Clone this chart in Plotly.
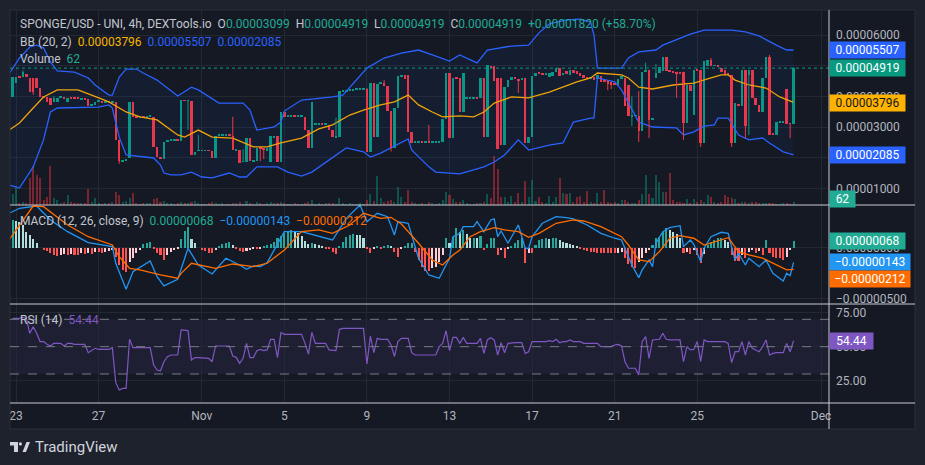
import pandas as pd
import plotly.graph_objects as go

# ---------------- data ----------------
BASE_TIME = pd.Timestamp("2023-10-23 00:00")   # bar index 0
BAR = pd.Timedelta(hours=4)
FIRST_INDEX = -1

# prices in units of 1e-5 USD, bars -1 .. 226
OPEN_E5 = [
    3.98, 4.43, 4.63, 4.62, 4.72, 4.60, 4.60, 4.60, 4.27, 3.98,
    3.98, 3.95, 3.82, 3.80, 3.95, 3.95, 3.80, 3.96, 3.95, 3.94,
    3.91, 3.91, 3.91, 3.69, 3.72, 3.82, 3.83, 3.80, 3.82, 3.80,
    3.82, 2.58, 1.86, 1.92, 1.99, 3.82, 3.33, 3.32, 3.33, 3.32,
    3.33, 3.33, 2.35, 2.02, 1.96, 2.51, 2.55, 2.55, 2.56, 2.55,
    3.88, 3.85, 3.85, 2.09, 2.22, 2.22, 2.22, 2.23, 2.22, 1.99,
    2.71, 2.71, 2.72, 2.74, 2.71, 2.25, 2.25, 1.86, 1.86, 2.64,
    1.89, 1.89, 2.32, 2.30, 2.22, 1.86, 2.64, 2.71, 1.86, 3.49,
    3.33, 3.33, 3.34, 3.33, 3.33, 3.33, 2.90, 2.32, 3.07, 3.07,
    3.08, 3.07, 3.07, 2.90, 2.67, 2.67, 4.17, 4.17, 4.18, 4.20,
    4.21, 4.22, 4.22, 4.24, 2.19, 4.43, 2.67, 4.43, 4.43, 4.33,
    3.52, 2.32, 3.62, 4.63, 4.70, 4.70, 2.84, 2.51, 2.51, 2.52,
    2.51, 2.51, 2.50, 2.51, 2.51, 2.51, 3.26, 4.76, 2.64, 4.60,
    4.60, 3.49, 3.94, 3.94, 3.94, 3.95, 3.94, 4.60, 2.67, 5.00,
    4.99, 4.60, 4.60, 2.41, 4.30, 4.53, 4.63, 4.55, 4.55, 4.60,
    2.48, 2.67, 4.66, 4.79, 4.75, 4.72, 4.63, 4.66, 4.79, 4.92,
    4.70, 4.83, 4.70, 4.86, 4.83, 4.75, 4.70, 4.63, 4.57, 4.62,
    4.55, 4.66, 4.53, 4.53, 4.47, 4.43, 4.37, 4.55, 4.60, 4.37,
    3.33, 3.36, 3.36, 2.87, 4.80, 4.86, 3.23, 4.60, 4.75, 4.83,
    5.28, 4.83, 4.83, 4.80, 4.80, 4.80, 3.14, 4.37, 3.39, 4.86,
    4.86, 2.48, 5.00, 5.18, 4.99, 4.99, 4.92, 4.86, 4.75, 4.70,
    2.48, 3.70, 3.69, 4.86, 4.70, 4.86, 3.95, 3.72, 3.49, 4.60,
    5.28, 2.80, 2.74, 3.16, 3.16, 4.24, 3.12, 3.10,
]
CLOSE_E5 = [
    4.63, 4.63, 4.62, 4.78, 4.66, 4.14, 4.14, 4.27, 3.98, 3.97,
    3.82, 3.72, 3.95, 3.95, 3.95, 3.94, 3.96, 3.93, 3.94, 3.93,
    3.91, 3.90, 3.69, 3.75, 3.82, 3.83, 3.80, 3.82, 3.80, 3.82,
    2.58, 1.89, 1.92, 1.96, 3.82, 3.33, 3.32, 3.33, 3.32, 3.33,
    3.33, 2.35, 2.02, 1.96, 2.51, 2.58, 2.55, 2.56, 2.55, 3.88,
    3.85, 3.85, 2.09, 2.20, 2.22, 2.22, 2.23, 2.22, 1.99, 2.71,
    2.71, 2.72, 2.74, 2.71, 2.25, 2.25, 1.83, 1.86, 2.64, 1.89,
    1.89, 2.32, 2.30, 2.28, 2.32, 2.71, 2.71, 1.86, 3.49, 3.33,
    3.33, 3.34, 3.33, 3.33, 3.33, 2.90, 2.32, 3.82, 3.07, 3.08,
    3.07, 3.07, 2.90, 2.67, 2.67, 4.17, 4.17, 4.18, 4.20, 4.21,
    4.22, 4.22, 4.24, 2.19, 4.43, 2.67, 4.40, 4.43, 4.33, 3.52,
    2.32, 3.62, 4.67, 4.70, 4.56, 2.84, 2.48, 2.51, 2.52, 2.51,
    2.51, 2.50, 2.51, 2.51, 2.51, 3.26, 4.76, 2.64, 4.60, 4.57,
    3.49, 4.76, 3.94, 3.94, 3.95, 3.94, 4.60, 2.67, 5.02, 4.95,
    4.50, 2.28, 2.41, 4.30, 4.53, 4.63, 4.55, 4.50, 4.55, 2.48,
    2.67, 4.66, 4.75, 4.75, 4.72, 4.72, 4.75, 4.79, 4.92, 4.66,
    4.70, 4.72, 4.86, 4.75, 4.72, 4.66, 4.60, 4.55, 4.57, 4.52,
    4.68, 4.47, 4.47, 4.40, 4.37, 4.37, 4.55, 4.65, 3.68, 3.36,
    3.36, 3.36, 2.87, 4.80, 4.83, 3.23, 3.30, 4.75, 4.95, 5.28,
    4.83, 4.80, 4.75, 4.72, 4.75, 3.14, 4.37, 4.17, 4.86, 4.85,
    2.48, 5.15, 5.18, 4.99, 4.99, 4.98, 4.79, 4.70, 4.70, 2.48,
    3.78, 3.69, 4.86, 3.03, 4.86, 3.94, 3.72, 3.49, 4.60, 5.28,
    2.74, 2.74, 3.16, 3.16, 3.17, 3.10, 3.10, 4.92,
]
# visible wicks beyond the body (bar index -> price e-5)
HIGH_E5 = {2: 4.85, 11: 4.00, 53: 2.74, 63: 3.33, 66: 2.28, 93: 3.30, 102: 4.27,
           107: 4.53, 120: 3.07, 179: 4.00, 181: 4.17, 183: 5.10, 186: 5.05,
           202: 5.25, 219: 5.35, 226: 4.95}
LOW_E5 = {5: 4.05, 30: 1.80, 50: 2.90, 71: 1.89, 72: 1.95, 109: 2.20, 146: 4.11,
          172: 4.20, 173: 4.24, 179: 3.03, 181: 2.51, 184: 2.64, 192: 3.95,
          194: 2.58, 199: 2.35, 208: 2.35, 212: 2.64, 213: 2.74, 225: 2.64}

VOLUME = [
    220, 380, 50, 60, 40, 540, 780, 600, 540, 100,
    160, 780, 150, 100, 40, 60, 200, 60, 40, 50,
    40, 40, 320, 60, 140, 40, 30, 50, 40, 60,
    260, 200, 60, 80, 150, 240, 40, 30, 50, 40,
    40, 120, 150, 60, 80, 50, 40, 30, 40, 60,
    40, 50, 60, 80, 40, 30, 30, 40, 60, 40,
    30, 40, 30, 30, 50, 40, 60, 30, 80, 50,
    30, 60, 40, 30, 40, 60, 40, 50, 60, 40,
    30, 30, 40, 30, 30, 40, 60, 100, 30, 40,
    30, 40, 50, 40, 30, 140, 40, 30, 40, 30,
    30, 40, 30, 100, 220, 80, 580, 140, 60, 80,
    100, 60, 360, 160, 60, 300, 60, 40, 30, 40,
    30, 60, 40, 30, 40, 100, 260, 200, 120, 60,
    60, 100, 40, 30, 30, 40, 40, 60, 220, 140,
    980, 720, 160, 160, 60, 180, 60, 240, 60, 480,
    160, 500, 80, 160, 60, 40, 180, 60, 160, 540,
    240, 220, 240, 60, 160, 180, 60, 280, 60, 40,
    240, 60, 300, 60, 40, 60, 40, 100, 100, 60,
    40, 40, 100, 220, 600, 220, 140, 600, 460, 260,
    260, 640, 100, 60, 60, 40, 120, 40, 120, 60,
    100, 60, 200, 160, 60, 40, 60, 200, 160, 140,
    120, 40, 60, 60, 40, 60, 60, 40, 40, 40,
    40, 40, 30, 30, 40, 40, 30, 62,
]

# Bollinger Bands (20, 2): bar index / value e-5
BB_UP_I = [-2, 1, 4, 6, 8, 10, 12, 17, 21, 23, 27, 28, 30, 32, 35, 37, 41, 47, 51, 53,
           59, 66, 68, 70, 75, 77, 78, 83, 92, 95, 102, 107, 112, 117, 121, 126, 129, 134, 137, 144,
           149, 152, 155, 160, 164, 167, 168, 169, 176, 178, 181, 186, 188, 196, 200, 208, 212, 216, 221, 224,
           226]
BB_UP_V = [4.73, 5.25, 5.61, 5.67, 5.58, 5.12, 4.83, 4.79, 4.60, 4.37, 4.04, 4.04, 4.63, 4.89, 4.89, 4.76, 4.53, 4.01, 4.30, 4.21,
           3.78, 3.78, 3.55, 2.90, 3.00, 3.16, 3.52, 3.88, 3.98, 4.04, 4.92, 5.25, 5.41, 5.51, 5.35, 5.15, 5.35, 5.09, 5.51, 5.64,
           5.67, 6.07, 6.36, 6.49, 6.52, 6.42, 6.00, 4.92, 4.92, 5.25, 5.45, 5.51, 5.67, 6.03, 6.16, 6.16, 6.10, 5.97, 5.67, 5.51,
           5.51]
BB_MID_I = [-2, 1, 5, 8, 12, 18, 22, 27, 32, 36, 41, 47, 49, 53, 57, 63, 69, 73, 77, 83,
            88, 92, 97, 101, 106, 110, 114, 117, 121, 124, 129, 133, 136, 139, 144, 149, 155, 159, 163, 167,
            169, 176, 178, 181, 185, 191, 197, 201, 205, 207, 209, 213, 218, 222, 226]
BB_MID_V = [2.90, 3.13, 3.62, 3.98, 4.21, 4.21, 4.04, 3.82, 3.49, 3.33, 3.23, 2.74, 2.67, 2.90, 2.67, 2.64, 2.35, 2.35, 2.48, 2.64,
            2.94, 3.07, 3.39, 3.55, 3.72, 3.82, 4.04, 3.72, 3.49, 3.33, 3.36, 3.33, 3.49, 3.78, 3.98, 3.95, 4.14, 4.30, 4.47, 4.60,
            4.76, 4.70, 4.60, 4.30, 4.24, 4.37, 4.43, 4.57, 4.70, 4.70, 4.53, 4.37, 4.27, 3.98, 3.80]
BB_LO_I = [-2, 1, 5, 8, 10, 12, 24, 27, 28, 30, 32, 37, 40, 42, 43, 45, 48, 51, 54, 57,
           62, 65, 67, 70, 76, 79, 83, 86, 91, 96, 101, 103, 106, 112, 114, 115, 120, 122, 126, 129,
           132, 136, 139, 142, 146, 149, 155, 159, 162, 167, 168, 169, 174, 176, 181, 185, 192, 194, 197, 200,
           203, 204, 207, 210, 213, 217, 219, 223, 226]
BB_LO_V = [1.11, 1.01, 1.70, 2.58, 3.49, 3.62, 3.65, 3.72, 3.62, 2.67, 2.09, 2.02, 1.99, 1.76, 1.50, 1.44, 1.44, 1.53, 1.37, 1.34,
           1.50, 1.37, 1.37, 1.70, 1.70, 1.53, 1.40, 1.53, 1.92, 2.32, 2.19, 2.02, 2.15, 2.48, 2.61, 2.25, 1.70, 1.53, 1.50, 1.47,
           1.57, 1.70, 1.86, 2.09, 2.58, 2.25, 2.41, 2.48, 3.16, 3.29, 3.29, 4.60, 4.47, 4.21, 3.16, 3.00, 2.97, 2.74, 2.84, 3.03,
           3.07, 3.29, 3.29, 2.74, 2.58, 2.64, 2.48, 2.19, 2.09]

# MACD (12, 26, 9) in units of 1e-6
MACD_I = [-2, 1, 6, 10, 15, 21, 28, 29, 32, 34, 39, 41, 43, 47, 50, 53, 57, 61, 65, 67,
          69, 71, 73, 78, 81, 83, 92, 96, 100, 102, 105, 108, 110, 111, 114, 117, 120, 123, 126, 127,
          129, 130, 133, 134, 136, 138, 139, 140, 141, 143, 146, 148, 149, 150, 153, 157, 160, 162, 166, 170,
          174, 176, 179, 181, 182, 184, 185, 186, 188, 190, 193, 194, 196, 197, 199, 200, 202, 205, 207, 208,
          209, 210, 212, 213, 216, 218, 220, 223, 224, 225, 226]
MACD_V = [3.35, 3.84, 4.06, 2.70, 1.56, 0.49, 0.10, -1.52, -4.05, -2.34, -1.30, -2.83, -3.73, -3.08, -0.06, -1.69, -2.56, -1.03, -1.69, -2.11,
          -1.78, -1.85, -1.46, 1.56, 1.56, 1.56, 0.75, 2.86, 4.16, 2.53, 3.35, 3.02, 1.24, 2.53, 2.38, -1.03, -2.66, -2.98, -1.03, 1.07,
          1.40, 2.05, 2.05, 2.53, 1.56, 2.70, 2.80, 1.07, 1.63, 0.43, 2.21, -0.06, -0.06, 1.07, 2.38, 3.02, 2.92, 2.80, 2.21, 1.40,
          0.92, 0.75, -1.69, -2.92, -2.17, -1.20, -1.85, 0.43, 1.56, 1.95, 2.14, 0.10, 0.75, 0.33, -1.36, -0.06, 1.07, 1.50, 1.40, -0.06,
          -1.20, -0.55, -1.69, -1.03, -1.85, -1.20, -2.50, -3.25, -2.50, -2.73, -1.43]
SIGNAL_I = [-2, 5, 8, 15, 21, 28, 30, 33, 36, 42, 47, 48, 51, 58, 63, 69, 73, 78, 83, 88,
            92, 97, 101, 106, 109, 112, 117, 121, 124, 127, 129, 132, 135, 139, 142, 146, 149, 152, 157, 162,
            165, 170, 176, 178, 181, 184, 187, 190, 193, 197, 200, 203, 207, 210, 213, 217, 221, 224, 226]
SIGNAL_V = [0.75, 4.06, 4.00, 2.21, 1.07, 0.26, -0.88, -2.01, -2.17, -2.66, -2.98, -2.50, -1.52, -2.01, -1.59, -1.85, -1.52, -0.22, 1.56, 1.73,
            1.40, 2.21, 3.35, 2.86, 2.96, 2.31, 0.43, -1.20, -1.69, -0.71, -0.22, 1.07, 1.56, 1.95, 1.73, 1.56, 1.01, 1.40, 2.38, 2.70,
            2.60, 2.05, 1.07, 0.26, -1.20, -1.36, -0.39, 0.92, 1.17, 0.92, 0.26, 0.58, 0.97, -0.39, -0.71, -1.03, -1.69, -2.17, -2.12]
HIST_E6 = [
    2.70, 2.63, 2.53, 2.21, 1.56, 1.23, 0.81, 0.42, 0.00, -0.23,
    -0.29, -0.49, -0.71, -0.81, -0.71, -0.65, -0.71, -0.65, -0.71, -0.71,
    -0.55, -0.62, -0.55, -0.62, -0.39, -0.39, -0.49, -0.39, -0.29, -0.23,
    -0.90, -1.69, -2.18, -2.34, -1.36, -1.04, -0.55, -0.23, 0.36, 0.49,
    0.58, -0.06, -0.49, -0.71, -1.20, -0.71, -0.39, -0.23, -0.06, 0.81,
    1.66, 1.98, 0.81, 0.42, 0.00, -0.23, -0.29, -0.49, -0.55, -0.23,
    0.16, 0.36, 0.49, 0.58, 0.26, -0.06, -0.29, -0.39, -0.29, -0.23,
    -0.16, -0.16, -0.06, 0.10, 0.26, 0.36, 0.58, 0.91, 1.14, 1.40,
    1.66, 1.72, 1.66, 1.40, 1.10, 0.70, 0.40, 0.50, 0.36, 0.26,
    0.10, -0.06, -0.16, -0.39, -0.65, 0.16, 0.58, 1.00, 1.23, 1.33,
    1.27, 1.20, 0.91, -0.06, -0.49, -0.16, 0.10, -0.06, 0.10, 0.26,
    0.10, -0.39, -0.88, -0.16, 0.10, 0.42, 0.49, -0.39, -1.20, -1.85,
    -2.24, -2.24, -2.00, -1.85, -1.36, -0.71, 0.91, 0.42, 1.07, 1.95,
    1.56, 1.72, 1.30, 0.91, 0.97, 0.91, 1.14, -0.23, 0.32, 0.97,
    0.97, -0.71, -0.23, -1.04, -0.16, 0.10, 0.42, 0.75, 0.91, -1.53,
    -0.55, -0.55, 0.26, 0.75, 0.84, 0.91, 0.81, 0.91, 0.97, 0.75,
    0.58, 0.42, 0.32, 0.26, 0.16, -0.13, -0.23, -0.32, -0.39, -0.45,
    -0.49, -0.55, -0.55, -0.55, -0.55, -0.55, -0.52, -0.45, -1.04, -1.62,
    -1.85, -2.01, -1.36, -1.04, -0.55, -0.23, 0.26, 0.91, 1.07, 1.56,
    1.88, 1.72, 1.49, 1.30, 0.95, -0.55, -0.39, -0.65, -0.23, -0.71,
    -1.53, -0.65, 0.26, 0.58, 0.75, 0.91, 0.91, 0.75, 0.58, -0.71,
    -1.30, -1.30, -0.71, -1.04, -0.39, -0.23, -0.55, -0.32, -0.71, 0.75,
    -0.55, -0.88, -1.04, -1.04, -1.20, -0.88, -0.23, 0.68,
]
RSI = [
    70.7, 70.7, 70.7, 71.5, 70.7, 59.8, 64.6, 59.8, 53.7, 53.7,
    51.7, 50.5, 52.4, 52.4, 52.4, 50.5, 52.4, 52.4, 51.7, 51.7,
    51.7, 51.7, 45.6, 47.1, 48.8, 48.0, 48.0, 48.0, 48.0, 49.3,
    23.7, 18.3, 19.5, 19.5, 55.4, 49.3, 49.3, 49.3, 49.3, 49.3,
    49.3, 36.6, 32.9, 32.4, 39.0, 42.7, 43.9, 43.9, 43.9, 62.2,
    62.2, 61.7, 40.2, 42.0, 42.0, 42.0, 42.0, 41.5, 39.0, 50.5,
    50.5, 50.5, 50.5, 50.5, 43.2, 42.2, 37.8, 41.5, 52.4, 42.0,
    42.0, 47.1, 48.0, 47.1, 47.6, 55.4, 55.4, 42.0, 60.2, 59.0,
    59.0, 59.0, 59.0, 59.0, 59.0, 52.4, 44.6, 60.5, 52.4, 52.4,
    52.4, 52.4, 47.6, 47.1, 47.1, 62.7, 63.4, 63.4, 63.4, 63.4,
    63.4, 63.4, 63.4, 37.3, 57.8, 45.6, 56.1, 55.4, 55.4, 55.4,
    51.2, 42.7, 53.7, 56.1, 56.1, 56.1, 45.6, 43.9, 43.9, 43.9,
    43.9, 43.9, 43.9, 43.9, 50.0, 52.4, 61.7, 47.1, 56.8, 56.8,
    52.4, 56.8, 52.4, 52.4, 52.4, 52.4, 56.1, 45.1, 54.9, 56.6,
    54.9, 43.9, 52.9, 45.6, 52.4, 52.9, 52.9, 52.9, 52.9, 45.1,
    46.3, 53.7, 53.7, 53.7, 53.7, 53.7, 54.4, 53.7, 55.4, 52.9,
    53.7, 53.7, 54.9, 53.7, 53.7, 53.7, 52.4, 52.4, 52.4, 52.4,
    52.4, 50.0, 50.0, 50.0, 50.0, 51.2, 51.7, 50.5, 39.0, 34.2,
    34.2, 34.2, 29.3, 53.7, 57.3, 41.5, 54.9, 55.4, 55.4, 59.8,
    55.4, 54.9, 54.9, 54.9, 54.9, 39.0, 50.0, 47.6, 48.0, 53.7,
    39.0, 54.9, 53.7, 53.7, 53.7, 53.7, 53.7, 53.7, 52.4, 38.3,
    46.3, 46.3, 53.7, 43.9, 53.7, 48.8, 47.6, 46.3, 50.0, 54.9,
    43.9, 45.1, 45.6, 45.6, 45.6, 52.4, 46.3, 54.4,
]

DATE_TICKS = ["2023-10-23", "2023-10-27", "2023-11-01", "2023-11-05", "2023-11-09",
              "2023-11-13", "2023-11-17", "2023-11-21", "2023-11-25", "2023-12-01"]
DATE_LABELS = ["23", "27", "Nov", "5", "9", "13", "17", "21", "25", "Dec"]
PRICE_TICKS = [1e-5, 2e-5, 3e-5, 4e-5, 5e-5, 6e-5]
PRICE_TICK_TEXT = ["0.00001000", "", "0.00003000", "0.00004000", "", "0.00006000"]  # 2e-5 / 5e-5 sit under badges
MACD_TICKS = [0.0, -5e-6]
RSI_TICKS = [75, 50, 25]

# ---------------- styling ----------------
OUTER = "#1e222d"
BG = "#151924"
GRID = "#242833"
TXT = "#b2b5be"
LEG = "#c3c6ce"
UP = "#089981"
DN = "#f23645"
BLUE = "#2962ff"
MID = "#f0a30a"
FONT = "Roboto"

E5, E6 = 1e-5, 1e-6
n = min(len(OPEN_E5), len(CLOSE_E5), len(VOLUME), len(HIST_E6), len(RSI))
idx = list(range(FIRST_INDEX, FIRST_INDEX + n))


def t(i):
    return BASE_TIME + i * BAR


times = [t(i) for i in idx]
o = [v * E5 for v in OPEN_E5[:n]]
c = [v * E5 for v in CLOSE_E5[:n]]
is_up = [c[k] >= o[k] for k in range(n)]

fig = go.Figure()

# volume (main hidden axis y, drawn beneath the overlaid price subplot)
fig.add_bar(x=times, y=VOLUME[:n], width=0.6 * BAR.total_seconds() * 1000,
            marker=dict(color=["rgba(8,153,129,0.45)" if u else "rgba(242,54,69,0.45)" for u in is_up],
                        line_width=0), yaxis="y")

# Bollinger bands
fig.add_scatter(x=[t(i) for i in BB_UP_I], y=[v * E5 for v in BB_UP_V], mode="lines",
                line=dict(color=BLUE, width=1.3), yaxis="y4")
fig.add_scatter(x=[t(i) for i in BB_LO_I], y=[v * E5 for v in BB_LO_V], mode="lines",
                line=dict(color=BLUE, width=1.3), fill="tonexty",
                fillcolor="rgba(41,98,255,0.06)", yaxis="y4")
fig.add_scatter(x=[t(i) for i in BB_MID_I], y=[v * E5 for v in BB_MID_V], mode="lines",
                line=dict(color=MID, width=1.3), yaxis="y4")

# candle wicks
for col, flag in ((UP, True), (DN, False)):
    wx, wy = [], []
    for k, i in enumerate(idx):
        if is_up[k] != flag:
            continue
        top, bot = max(o[k], c[k]), min(o[k], c[k])
        hi = max(top, HIGH_E5.get(i, 0) * E5)
        lo = min(bot, LOW_E5[i] * E5) if i in LOW_E5 else bot
        if hi > top or lo < bot:
            wx += [times[k], times[k], None]
            wy += [lo, hi, None]
    fig.add_scatter(x=wx, y=wy, mode="lines", line=dict(color=col, width=1), yaxis="y4")

# candle bodies
MIN_BODY = 0.03 * E5
fig.add_bar(x=times, y=[max(abs(c[k] - o[k]), MIN_BODY) for k in range(n)],
            base=[min(o[k], c[k]) for k in range(n)],
            width=0.72 * BAR.total_seconds() * 1000,
            marker=dict(color=[UP if u else DN for u in is_up], line_width=0), yaxis="y4")

# MACD histogram
hcol, prev = [], None
for h in HIST_E6[:n]:
    if h >= 0:
        hcol.append("#26a69a" if prev is None or h >= prev else "#b2dfdb")
    else:
        hcol.append("#ff5252" if prev is None or h <= prev else "#ffcdd2")
    prev = h
fig.add_bar(x=times, y=[h * E6 for h in HIST_E6[:n]], width=0.6 * BAR.total_seconds() * 1000,
            marker=dict(color=hcol, line_width=0), yaxis="y2")
fig.add_scatter(x=[t(i) for i in MACD_I], y=[v * E6 for v in MACD_V], mode="lines",
                line=dict(color="#2196f3", width=1.3), yaxis="y2")
fig.add_scatter(x=[t(i) for i in SIGNAL_I], y=[v * E6 for v in SIGNAL_V], mode="lines",
                line=dict(color="#ff6d00", width=1.3), yaxis="y2")

# RSI
fig.add_scatter(x=times, y=RSI[:n], mode="lines", line=dict(color="#7e57c2", width=1.2), yaxis="y3")

# ---------------- layout ----------------
W, H = 925, 465
L, R, T, B = 10, 829, 10, 403


def px(x):
    return (x - L) / (R - L)


def py(y):
    return (B - y) / (B - T)


P0 = py(205)
M0 = py(304)


def axis_common():
    return dict(showgrid=True, gridcolor=GRID, gridwidth=1, zeroline=False, showline=False,
                ticks="", tickfont=dict(family=FONT, size=12, color=TXT), fixedrange=True)


shapes = []
# outer frame strips
for x0, x1, y0, y1 in ((0, W, 0, T), (0, W, 429, H), (0, L, 0, H), (915, W, 0, H)):
    shapes.append(dict(type="rect", xref="paper", yref="paper", x0=px(x0), x1=px(x1),
                       y0=py(y0), y1=py(y1), fillcolor=OUTER, line_width=0, layer="above"))
shapes.append(dict(type="rect", xref="paper", yref="paper", x0=px(10), x1=px(915), y0=py(10), y1=py(429),
                   line=dict(color="#2a2e39", width=1), fillcolor="rgba(0,0,0,0)", layer="above"))
# RSI band and levels
shapes.append(dict(type="rect", xref="paper", yref="y3", x0=0, x1=1, y0=30, y1=70,
                   fillcolor="rgba(126,87,194,0.10)", line_width=0, layer="below"))
for lv in (70, 50, 30):
    shapes.append(dict(type="line", xref="paper", yref="y3", x0=0, x1=1, y0=lv, y1=lv,
                       line=dict(color="#787b86", width=1, dash="dash")))
# last price dotted line
shapes.append(dict(type="line", xref="paper", yref="y4", x0=0, x1=1, y0=CLOSE_E5[n - 1] * E5,
                   y1=CLOSE_E5[n - 1] * E5, line=dict(color=UP, width=1, dash="dot")))
# pane separators and price-scale border
for yy in (205, 304, 403):
    shapes.append(dict(type="line", xref="paper", yref="paper", x0=px(10), x1=px(915), y0=py(yy), y1=py(yy),
                       line=dict(color="#c9cbd1", width=1), layer="above"))
shapes.append(dict(type="line", xref="paper", yref="paper", x0=px(829), x1=px(829), y0=py(10), y1=py(429),
                   line=dict(color="#c9cbd1", width=1), layer="above"))
# TradingView logo
LOGO = "#d1d4dc"
shapes.append(dict(type="rect", xref="paper", yref="paper", x0=px(10), x1=px(18), y0=py(445.5), y1=py(442),
                   fillcolor=LOGO, line_width=0, layer="above"))
shapes.append(dict(type="rect", xref="paper", yref="paper", x0=px(14), x1=px(18), y0=py(452), y1=py(442),
                   fillcolor=LOGO, line_width=0, layer="above"))
shapes.append(dict(type="circle", xref="paper", yref="paper", x0=px(18.8), x1=px(22), y0=py(445.5), y1=py(442.3),
                   fillcolor=LOGO, line_width=0, layer="above"))
shapes.append(dict(type="path", xref="paper", yref="paper", layer="above", fillcolor=LOGO, line_width=0,
                   path="M {} {} L {} {} L {} {} L {} {} Z".format(px(22.5), py(452), px(26), py(452),
                                                               px(30), py(442), px(26.5), py(442))))


def span(txt, col):
    return '<span style="color:%s">%s</span>' % (col, txt)


SP = "\u00a0\u00a0"
TEAL = "#22ab94"
ann = []
head = ("SPONGE/USD - UNI, 4h, DEXTools.io" + SP + "O" + span("0.00003099", TEAL) + SP + "H" +
        span("0.00004919", TEAL) + SP + "L" + span("0.00004919", TEAL) + SP + "C" +
        span("0.00004919", TEAL) + SP + span("+0.00001820 (+58.70%)", TEAL))
legend_lines = [
    (head, 24),
    ("BB (20, 2)" + SP + span("0.00003796", "#f7b500") + SP + span("0.00005507", BLUE) + SP +
     span("0.00002085", BLUE), 41.7),
    ("Volume" + SP + span("62", TEAL), 59),
    ("MACD (12, 26, close, 9)" + SP + span("0.00000068", TEAL) + SP + span("\u22120.00000143", "#2196f3") +
     SP + span("\u22120.00000212", "#ff6d00"), 221),
    ("RSI (14)" + SP + span("54.44", "#7e57c2"), 320),
]
for txt, yy in legend_lines:
    ann.append(dict(text=txt, xref="paper", yref="paper", x=px(18), y=py(yy), xanchor="left",
                    yanchor="middle", showarrow=False, font=dict(family=FONT, size=12, color=LEG)))
ann.append(dict(text="TradingView", xref="paper", yref="paper", x=px(33), y=py(447), xanchor="left",
                yanchor="middle", showarrow=False, font=dict(family=FONT, size=15, color=LOGO)))


def badge(text, yref, yv, bg, fg="#ffffff", w=71, yshift=0):
    ann.append(dict(text=text, xref="paper", yref=yref, x=1.0, y=yv, xanchor="left", yanchor="middle",
                    showarrow=False, bgcolor=bg, width=w, height=12, borderpad=2, align="center",
                    yshift=yshift, font=dict(family=FONT, size=12, color=fg)))


badge("0.00005507", "y4", 5.507e-5, BLUE)
badge("0.00004919", "y4", 4.919e-5, UP)
badge("0.00003796", "y4", 3.796e-5, "#ffb300", fg="#131722")
badge("0.00002085", "y4", 2.085e-5, BLUE)
badge("62", "paper", py(198.5), "#22ab94", w=21)
badge("0.00000068", "y2", 0.68e-6, TEAL)
badge("\u22120.00000143", "y2", -1.43e-6, "#2196f3", w=76)
badge("\u22120.00000212", "y2", -2.12e-6, "#ff6d00", w=76, yshift=-9.5)
badge("54.44", "y3", 54.44, "#7e57c2", w=39)

xa = axis_common()
xa.update(type="date", range=[BASE_TIME - pd.Timedelta(hours=6.98), BASE_TIME + pd.Timedelta(hours=945.2)],
          anchor="y3", domain=[0, 1], tickvals=[pd.Timestamp(d) for d in DATE_TICKS], ticktext=DATE_LABELS,
          ticklabelstandoff=4)

ya4 = axis_common()
ya4.update(overlaying="y", side="right", anchor="x", range=[0.457e-5, 6.815e-5], tickvals=PRICE_TICKS,
           ticktext=PRICE_TICK_TEXT, ticklabelstandoff=6)
ya2 = axis_common()
ya2.update(domain=[M0, P0], side="right", anchor="x", range=[-5.49e-6, 4.16e-6], tickvals=MACD_TICKS,
           ticktext=[("%.8f" % v).replace("-", "\u2212") for v in MACD_TICKS], ticklabelstandoff=6)
ya3 = axis_common()
ya3.update(domain=[0, M0], side="right", anchor="x", range=[8.8, 81.2], tickvals=RSI_TICKS,
           ticktext=["%.2f" % v for v in RSI_TICKS], ticklabelstandoff=6)

fig.update_layout(
    width=W, height=H, margin=dict(l=L, r=W - R, t=T, b=H - B),
    paper_bgcolor=BG, plot_bgcolor=BG, barmode="overlay", bargap=0,
    showlegend=False, hovermode=False,
    font=dict(family=FONT, size=12, color=TXT),
    xaxis=xa,
    yaxis=dict(domain=[P0, 1], range=[0, 3900], visible=False, fixedrange=True, showgrid=False),
    yaxis2=ya2, yaxis3=ya3, yaxis4=ya4,
    shapes=shapes, annotations=ann,
)

fig.write_html("out.html")
